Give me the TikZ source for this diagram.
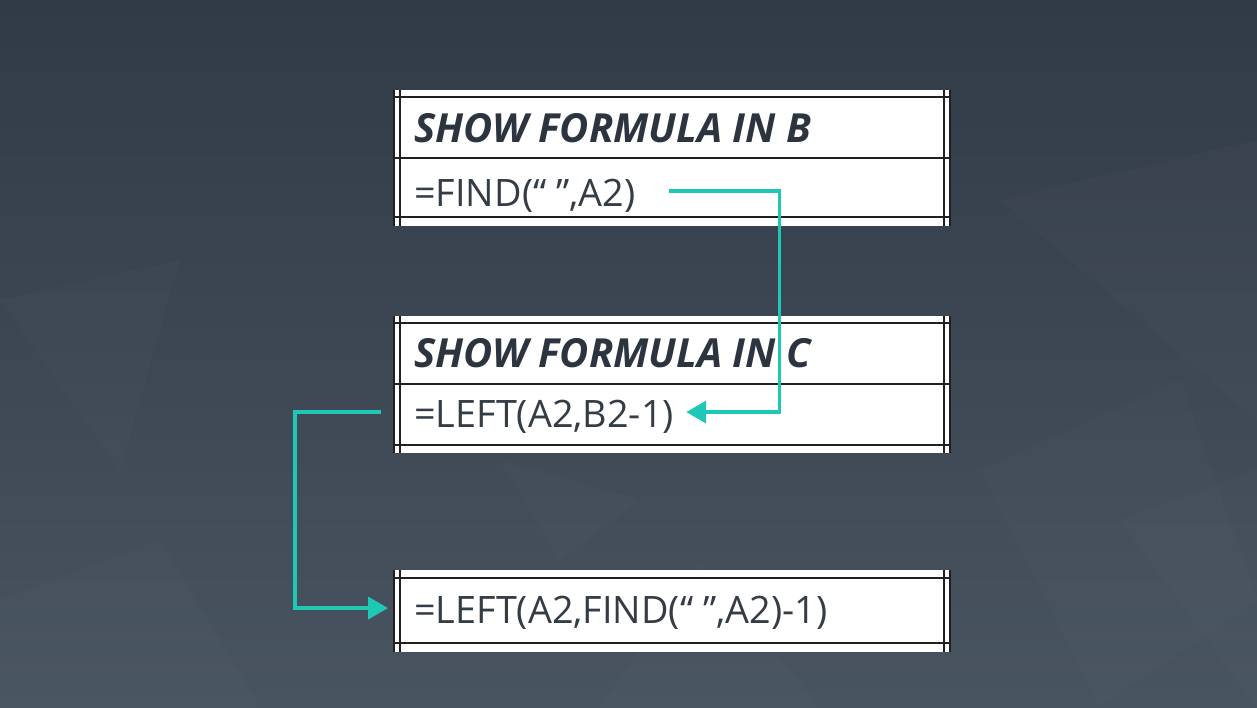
\documentclass[tikz,border=0pt]{standalone}
\usepackage{fontspec}
\setmainfont{Open Sans}
\usetikzlibrary{positioning,arrows.meta,calc}
\definecolor{SlateTop}{RGB}{49,59,71}
\definecolor{SlateBottom}{RGB}{72,84,96}
\definecolor{InkDark}{RGB}{44,52,63}
\definecolor{InkText}{RGB}{52,60,70}
\definecolor{GridLine}{RGB}{32,32,34}
\definecolor{TealArrow}{RGB}{30,200,180}
\tikzset{
  flow/.style={-{Triangle[length=11.3pt,width=12.5pt]},line width=1.9pt,draw=TealArrow},
  gridline/.style={draw=GridLine,line width=1pt},
  facet/.style={fill=white,fill opacity=0.015},
  headcell/.style={anchor=base west,inner sep=0pt,text=InkDark,
    font=\fontsize{22.8}{26}\selectfont\bfseries\itshape},
  formcell/.style={anchor=base west,inner sep=0pt,text=InkText,
    text height=17pt,text depth=0pt,font=\fontsize{21.5}{24}\selectfont}
}

\begin{document}
\begin{tikzpicture}[x=0.02cm,y=-0.02cm]
  % backdrop
  \shade[top color=SlateTop,bottom color=SlateBottom] (0,0) rectangle (1257,707);
  \useasboundingbox (0,0) rectangle (1257,707);
  \fill[facet] (0,300) -- (180,260) -- (120,470) -- cycle;
  \fill[facet] (1000,200) -- (1257,140) -- (1257,420) -- cycle;
  \fill[facet] (980,470) -- (1180,380) -- (1257,600) -- (1100,707) -- cycle;
  \fill[facet] (600,707) -- (700,560) -- (820,707) -- cycle;
  \fill[facet] (0,600) -- (160,540) -- (260,707) -- (0,707) -- cycle;
  \fill[facet] (1120,520) -- (1257,470) -- (1257,707) -- cycle;
  \fill[facet] (500,460) -- (640,500) -- (560,560) -- cycle;

  % sheet B
  \fill[white] (393,90) rectangle (951,226);
  \foreach \y in {97,158,217} \draw[gridline] (393,\y) -- (951,\y);
  \foreach \x in {394,400,944,950} \draw[gridline] (\x,90) -- (\x,226);

  % sheet C
  \fill[white] (393,316) rectangle (951,453);
  \foreach \y in {323,384,445} \draw[gridline] (393,\y) -- (951,\y);
  \foreach \x in {394,400,944,950} \draw[gridline] (\x,316) -- (\x,453);

  % combined sheet
  \fill[white] (393,570) rectangle (951,652);
  \foreach \y in {578,643} \draw[gridline] (393,\y) -- (951,\y);
  \foreach \x in {394,400,944,950} \draw[gridline] (\x,570) -- (\x,652);

  \node[headcell] (hdrB) at (414,142) {SHOW FORMULA IN B};
  \node[formcell] (fmlB) at (414,206) {=FIND(“ ”,A2)};
  \node[headcell] (hdrC) at (414,367) {SHOW FORMULA IN C};
  \node[formcell] (fmlC) at (414,427) {=LEFT(A2,B2-1)};
  \node[formcell] (fmlD) at (414,623) {=LEFT(A2,FIND(“ ”,A2)-1)};

  \coordinate (bendB) at ([xshift=2.88cm]fmlB.east);
  \draw[flow] ([xshift=0.66cm]fmlB.east) -| (bendB |- fmlC.east)
    -- ([xshift=0.24cm]fmlC.east);
  \draw[flow] ([xshift=-0.66cm]fmlC.west) -| ([xshift=-2.38cm]fmlD.west)
    -- ([xshift=-0.52cm]fmlD.west);
\end{tikzpicture}
\end{document}
